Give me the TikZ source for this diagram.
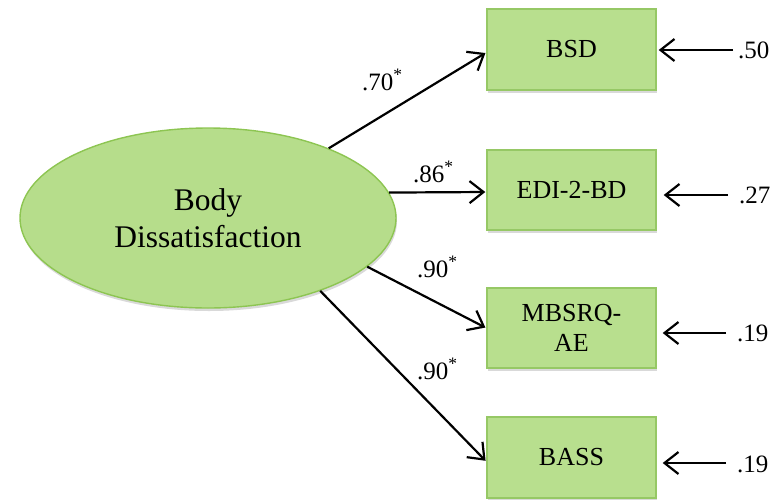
\documentclass[tikz,border=0pt]{standalone}
\usepackage{fontspec}
\setmainfont{Liberation Serif}
\usetikzlibrary{arrows.meta,shapes.geometric,shadows}
\definecolor{boxfill}{HTML}{B8DF8E}
\definecolor{boxline}{HTML}{96C865}
\definecolor{ellfill}{HTML}{B6DD8B}
\definecolor{ellline}{HTML}{8DC552}
\tikzset{
  shad/.style={drop shadow={shadow xshift=1pt,shadow yshift=-3pt,opacity=0.15,fill=black}},
  latent/.style={ellipse,draw=ellline,fill=ellfill,line width=1.4pt,minimum width=376pt,minimum height=180pt,inner sep=0pt,align=center,font=\fontsize{31.5}{37}\selectfont,shad},
  obsbox/.style={rectangle,draw=boxline,fill=boxfill,line width=1.4pt,minimum width=169pt,minimum height=80pt,inner sep=0pt,align=center,font=\fontsize{26}{30}\selectfont,shad},
  lbl/.style={inner sep=0pt,font=\fontsize{25}{28}\selectfont},
  arr/.style={line width=2.2pt,-{Straight Barb[length=14pt,width=22pt,line width=2.2pt]}}
}
\begin{document}
\begin{tikzpicture}[x=1pt,y=-1pt]
\useasboundingbox (0,0) rectangle (782,499);
\node[latent] (ell) at (208,218) {Body\\Dissatisfaction};
\node[obsbox,minimum height=81pt] (b1) at (571.5,49.5) {BSD};
\node[obsbox] (b2) at (571.5,190) {EDI-2-BD};
\node[obsbox] (b3) at (571.5,328) {MBSRQ-\\AE};
\node[obsbox,minimum height=81pt] (b4) at (571.5,457.5) {BASS};
% loadings
\draw[arr,shorten >=1pt] (ell.30) -- ([yshift=-3pt]b1.west);
\draw[arr,shorten >=1pt] (ell.8) -- ([yshift=-2pt]b2.west);
\draw[arr,shorten >=1pt] (ell.-17) -- (b3.west);
\draw[arr,shorten >=1pt] (ell.-33) -- ([yshift=-4pt]b4.west);
\node[lbl,anchor=base west] (l1) at (362,90) {.70\textsuperscript{*}};
\node[lbl,anchor=base west] (l2) at (413,182) {.86\textsuperscript{*}};
\node[lbl,anchor=base west] (l3) at (417,277) {.90\textsuperscript{*}};
\node[lbl,anchor=base west] (l4) at (417,379) {.90\textsuperscript{*}};
% error terms
\node[lbl,anchor=base west] (e1) at (738,58) {.50};
\node[lbl,anchor=base west] (e2) at (739,203) {.27};
\node[lbl,anchor=base west] (e3) at (737,341) {.19};
\node[lbl,anchor=base west] (e4) at (737,472) {.19};
\coordinate (s1) at (733,50);
\coordinate (s2) at (728,195);
\coordinate (s3) at (726,333);
\coordinate (s4) at (726,463);
\draw[arr] (s1) -- ([xshift=2pt]b1.east |- s1);
\draw[arr] (s2) -- ([xshift=7pt]b2.east |- s2);
\draw[arr] (s3) -- ([xshift=6pt]b3.east |- s3);
\draw[arr] (s4) -- ([xshift=6pt]b4.east |- s4);
\end{tikzpicture}
\end{document}
